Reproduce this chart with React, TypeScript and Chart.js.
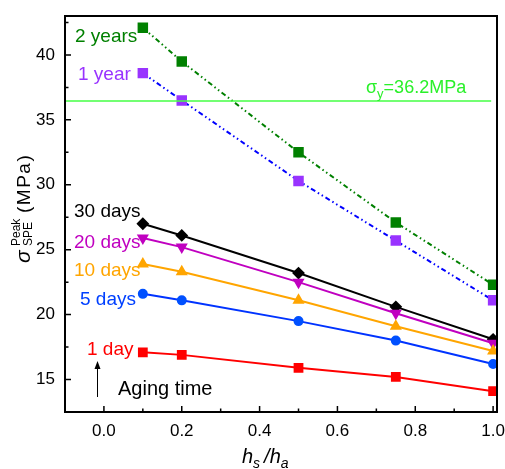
import React, { useEffect, useRef } from 'react';
import { Chart, registerables } from 'chart.js';

Chart.register(...registerables);

const xValues = [0.1, 0.2, 0.5, 0.75, 1.0];
const oneDay = [17.1, 16.9, 15.9, 15.2, 14.1];
const fiveDays = [21.6, 21.1, 19.5, 18.0, 16.2];
const tenDays = [23.9, 23.3, 21.1, 19.1, 17.2];
const twentyDays = [25.9, 25.2, 22.5, 20.1, 17.8];
const thirtyDays = [27.0, 26.1, 23.2, 20.6, 18.1];
const oneYear = [38.6, 36.5, 30.3, 25.7, 21.1];
const twoYears = [42.1, 39.5, 32.5, 27.1, 22.3];
const yieldStress = 36.45;
const yieldSpan = [-0.1, 0.995];
const xTicks = [0, 0.2, 0.4, 0.6, 0.8, 1.0];
const xMinor = [0.1, 0.3, 0.5, 0.7, 0.9];
const yTicks = [15, 20, 25, 30, 35, 40];
const yMinor = [17.5, 22.5, 27.5, 32.5, 37.5, 42.5];

const FONT = "'Liberation Sans', Arial, sans-serif";

const pts = (ys: number[]) => ys.map((y, i) => ({ x: xValues[i], y }));

const labels = [
  { text: '2 years', x: 75, y: 42, color: '#008000' },
  { text: '1 year', x: 78, y: 80, color: '#9933ff' },
  { text: '30 days', x: 74, y: 217, color: '#000000' },
  { text: '20 days', x: 74, y: 248, color: '#c000c0' },
  { text: '10 days', x: 74, y: 276, color: '#ffa500' },
  { text: '5 days', x: 80, y: 305, color: '#0040ff' },
  { text: '1 day', x: 87, y: 355, color: '#ff0000' },
];

const decorPlugin = {
  id: 'decor',
  afterDraw(chart: any) {
    const { ctx, chartArea: a, scales } = chart;
    const xs = scales.x;
    const ys = scales.y;
    ctx.save();
    // frame
    ctx.strokeStyle = '#000';
    ctx.lineWidth = 2;
    ctx.strokeRect(a.left, a.top, a.right - a.left, a.bottom - a.top);
    // ticks
    ctx.lineWidth = 1.5;
    ctx.beginPath();
    xTicks.forEach((v) => {
      const px = xs.getPixelForValue(v);
      ctx.moveTo(px, a.bottom);
      ctx.lineTo(px, a.bottom - 6);
    });
    xMinor.forEach((v) => {
      const px = xs.getPixelForValue(v);
      ctx.moveTo(px, a.bottom);
      ctx.lineTo(px, a.bottom - 3.5);
    });
    yTicks.forEach((v) => {
      const py = ys.getPixelForValue(v);
      ctx.moveTo(a.left, py);
      ctx.lineTo(a.left + 6, py);
    });
    yMinor.forEach((v) => {
      const py = ys.getPixelForValue(v);
      ctx.moveTo(a.left, py);
      ctx.lineTo(a.left + 3.5, py);
    });
    ctx.stroke();

    // series labels
    ctx.textBaseline = 'alphabetic';
    ctx.textAlign = 'left';
    ctx.font = `19px ${FONT}`;
    labels.forEach((l) => {
      ctx.fillStyle = l.color;
      ctx.fillText(l.text, l.x, l.y);
    });
    // aging time
    ctx.fillStyle = '#000';
    ctx.font = `20px ${FONT}`;
    ctx.fillText('Aging time', 118, 395);
    // arrow
    ctx.strokeStyle = '#000';
    ctx.lineWidth = 1;
    ctx.beginPath();
    ctx.moveTo(97.5, 397);
    ctx.lineTo(97.5, 366);
    ctx.stroke();
    ctx.beginPath();
    ctx.moveTo(97.5, 361);
    ctx.lineTo(94.5, 369);
    ctx.lineTo(100.5, 369);
    ctx.closePath();
    ctx.fill();

    // yield label
    ctx.fillStyle = '#2af02a';
    ctx.font = `18px ${FONT}`;
    let x0 = 366;
    ctx.fillText('σ', x0, 93);
    x0 += ctx.measureText('σ').width;
    ctx.font = `13px ${FONT}`;
    ctx.fillText('y', x0, 98);
    x0 += ctx.measureText('y').width;
    ctx.font = `18px ${FONT}`;
    ctx.fillText('=36.2MPa', x0, 93);

    // y title
    ctx.save();
    ctx.fillStyle = '#000';
    ctx.translate(30, 213);
    ctx.rotate(-Math.PI / 2);
    ctx.font = `italic 21px ${FONT}`;
    ctx.fillText('σ', -50, 0);
    ctx.font = `12px ${FONT}`;
    ctx.fillText('Peak', -33, -10);
    ctx.fillText('SPE', -33, 2);
    ctx.font = `19px ${FONT}`;
    try {
      (ctx as any).letterSpacing = '1.5px';
    } catch (e) {}
    ctx.fillText('(MPa)', 0, 0);
    try {
      (ctx as any).letterSpacing = '0px';
    } catch (e) {}
    ctx.restore();

    // x title
    ctx.fillStyle = '#000';
    let xx = 242;
    ctx.font = `italic 20px ${FONT}`;
    ctx.fillText('h', xx, 463);
    xx += ctx.measureText('h').width;
    ctx.font = `italic 14px ${FONT}`;
    ctx.fillText('s', xx, 468);
    xx += ctx.measureText('s').width + 4;
    ctx.font = `italic 20px ${FONT}`;
    ctx.fillText('/h', xx, 463);
    xx += ctx.measureText('/h').width;
    ctx.font = `italic 14px ${FONT}`;
    ctx.fillText('a', xx, 468);
    ctx.restore();
  },
};

export default function App() {
  const ref = useRef<HTMLCanvasElement>(null);
  useEffect(() => {
    document.body.style.margin = '0';
    const dashDotDot = [5, 3, 1.5, 3, 1.5, 3];
    const series = (label: string, ys: number[], color: string, pointColor: string, style: any, radius: number, dash: number[] = [], rotation = 0) => ({
      label,
      data: pts(ys),
      borderColor: color,
      backgroundColor: pointColor,
      pointBackgroundColor: pointColor,
      pointBorderColor: pointColor,
      pointStyle: style,
      pointRadius: radius,
      pointRotation: rotation,
      borderWidth: 2,
      borderDash: dash,
      tension: 0,
    });
    const chart = new Chart(ref.current!, {
      type: 'line',
      data: {
        datasets: [
          {
            label: 'yield',
            data: yieldSpan.map((x) => ({ x, y: yieldStress })),
            borderColor: '#44ff44',
            borderWidth: 1.5,
            pointRadius: 0,
          },
          series('1 day', oneDay, '#ff0000', '#ff0000', 'rect', 5.5),
          series('5 days', fiveDays, '#0033ff', '#0050ff', 'circle', 4),
          series('10 days', tenDays, '#ffa500', '#ffa500', 'triangle', 5),
          series('20 days', twentyDays, '#c000c0', '#c000c0', 'triangle', 5, [], 180),
          series('30 days', thirtyDays, '#000000', '#000000', 'rectRot', 5),
          series('1 year', oneYear, '#0000ff', '#9933ff', 'rect', 6, dashDotDot),
          series('2 years', twoYears, '#008000', '#008000', 'rect', 6, dashDotDot),
        ] as any,
      },
      options: {
        animation: false,
        responsive: false,
        events: [],
        layout: { padding: { top: 16, right: 8, left: 0, bottom: 0 } },
        plugins: { legend: { display: false }, tooltip: { enabled: false } },
        scales: {
          x: {
            type: 'linear',
            min: -0.1,
            max: 1.01,
            grid: { display: false, drawTicks: false },
            border: { display: false },
            afterBuildTicks: (s: any) => {
              s.ticks = xTicks.map((v) => ({ value: v }));
            },
            afterFit: (s: any) => {
              s.height = 57;
              s.paddingLeft = 0;
              s.paddingRight = 0;
            },
            ticks: {
              padding: 9,
              color: '#000',
              font: { family: FONT, size: 17 },
              callback: (v: any) => Number(v).toFixed(1),
            },
          },
          y: {
            type: 'linear',
            min: 12.5,
            max: 43,
            grid: { display: false, drawTicks: false },
            border: { display: false },
            afterBuildTicks: (s: any) => {
              s.ticks = yTicks.map((v) => ({ value: v }));
            },
            afterFit: (s: any) => {
              s.width = 65;
              s.paddingTop = 0;
              s.paddingBottom = 0;
            },
            ticks: {
              padding: 10,
              color: '#000',
              font: { family: FONT, size: 17 },
              callback: (v: any) => String(v),
            },
          },
        },
      },
      plugins: [decorPlugin],
    } as any);
    return () => chart.destroy();
  }, []);
  return (
    <div style={{ width: 505, height: 469, background: '#fff' }}>
      <canvas ref={ref} width={505} height={469} style={{ display: 'block' }} />
    </div>
  );
}
